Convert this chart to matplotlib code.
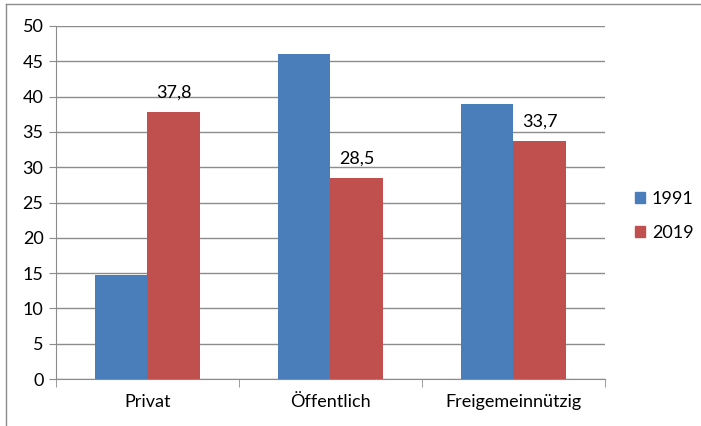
import matplotlib
matplotlib.use("Agg")
import matplotlib.pyplot as plt
import numpy as np
from matplotlib.lines import Line2D

categories = ["Privat", "Öffentlich", "Freigemeinnützig"]
series_names = ["1991", "2019"]
values_1991 = [14.7, 46.0, 39.0]
values_2019 = [37.8, 28.5, 33.7]
labels_2019 = ["37,8", "28,5", "33,7"]
y_ticks = [0, 5, 10, 15, 20, 25, 30, 35, 40, 45, 50]

plt.rcParams['font.family'] = ['Lato', 'DejaVu Sans']
FS = 13

W, H = 701, 426
fig = plt.figure(figsize=(W/100, H/100), dpi=100)
ax = fig.add_axes([56/W, 1-379/H, (605-56)/W, (379-26)/H])

x = np.arange(len(categories))
bw = 1/3.5
blue = "#4A7EBB"
red = "#C0504D"
ax.bar(x - bw/2, values_1991, bw, color=blue, zorder=3, label=series_names[0])
bars2 = ax.bar(x + bw/2, values_2019, bw, color=red, zorder=3, label=series_names[1])
for b, t in zip(bars2, labels_2019):
    ax.annotate(t, (b.get_x()+b.get_width()/2, b.get_height()), xytext=(0, 8),
                textcoords="offset points", ha="center", va="bottom", fontsize=FS)

ax.set_xlim(-0.5, 2.5)
ax.set_ylim(0, 50)
ax.set_yticks(y_ticks)
ax.set_yticklabels([str(v) for v in y_ticks], fontsize=FS)
ax.yaxis.grid(True, color="#8C8C8C", linewidth=1, zorder=0)
ax.set_axisbelow(True)
for s in ["top", "right"]:
    ax.spines[s].set_visible(False)
ax.spines["left"].set_color("#8C8C8C")
ax.spines["bottom"].set_color("#8C8C8C")
ax.tick_params(axis="y", length=5, color="#8C8C8C", pad=4)
ax.set_xticks(x)
ax.set_xticklabels(categories, fontsize=FS)
ax.tick_params(axis="x", which="major", length=0, pad=11)
ax.set_xticks([-0.5, 0.5, 1.5, 2.5], minor=True)
ax.tick_params(axis="x", which="minor", length=6, color="#8C8C8C")

handles = [plt.Rectangle((0, 0), 1, 1, color=blue), plt.Rectangle((0, 0), 1, 1, color=red)]
fig.legend(handles, series_names, loc="center left", bbox_to_anchor=(622/W, 1-216/H),
           frameon=False, fontsize=FS, handlelength=0.6, handleheight=0.6,
           handletextpad=0.35, labelspacing=1.0, borderpad=0.2)

fig.add_artist(Line2D([6/W, 6/W], [0, 1-4/H], color="#8C8C8C", linewidth=1, transform=fig.transFigure))
fig.add_artist(Line2D([6/W, 1], [1-4/H, 1-4/H], color="#8C8C8C", linewidth=1, transform=fig.transFigure))

fig.savefig("out.png", dpi=100)
